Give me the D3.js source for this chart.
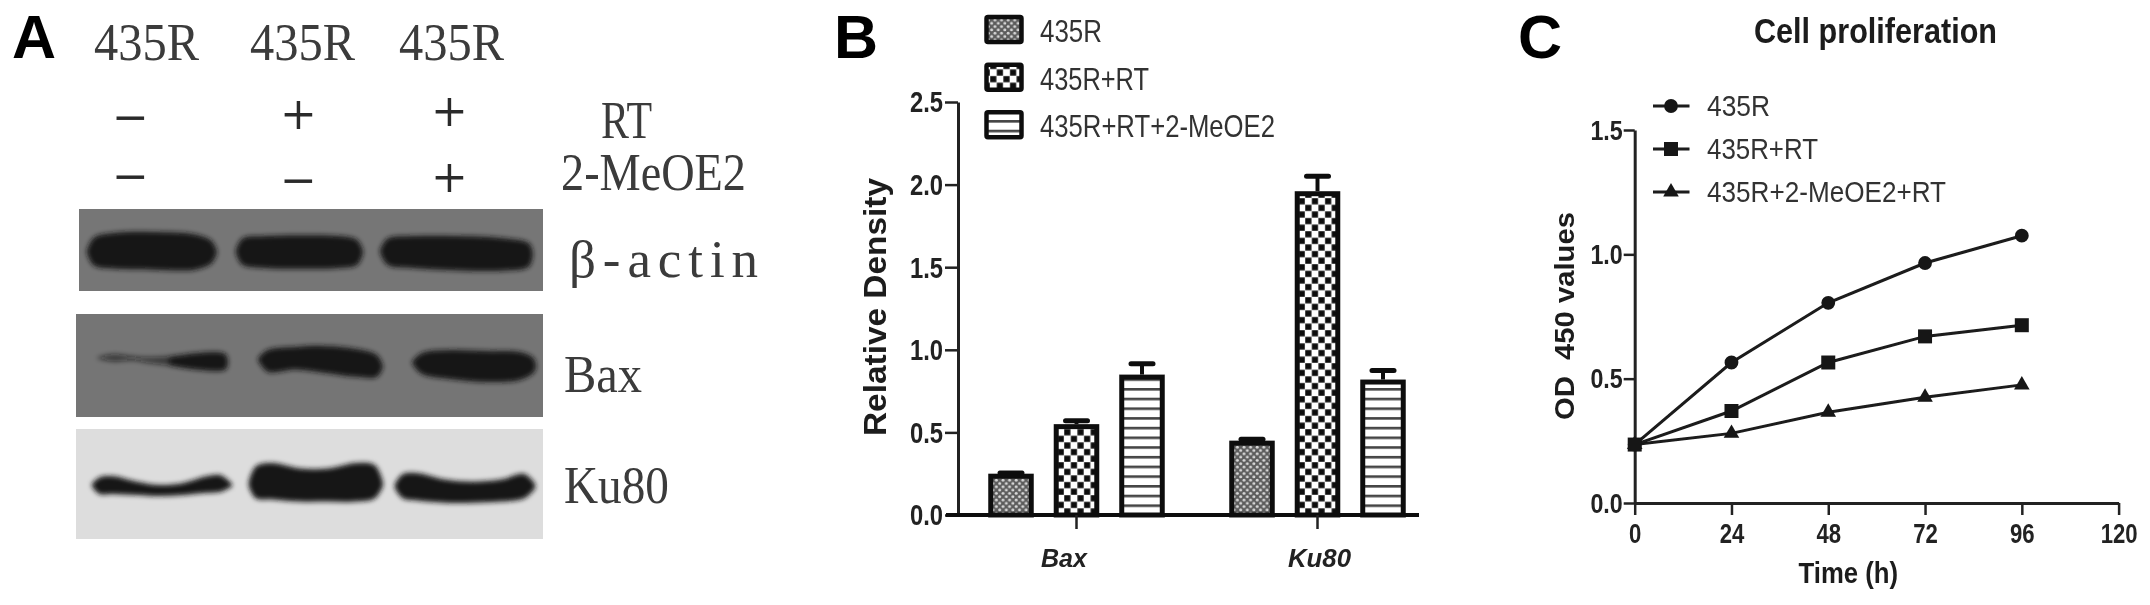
<!DOCTYPE html>
<html><head><meta charset="utf-8">
<script src="https://cdn.jsdelivr.net/npm/d3@7/dist/d3.min.js"></script>
<style>html,body{margin:0;padding:0;background:#fff}svg{display:block}</style>
</head><body><svg id="c" width="2150" height="605"></svg>
<script>
// ---------- data ----------
const laneHeads = ["435R","435R","435R"];
const rtSigns = ["−","+","+"];
const meoSigns = ["−","−","+"];
const treatments = ["RT","2-MeOE2"];
const blotNames = ["β-actin","Bax","Ku80"];
// band outlines as [lane %, top %, bottom %] of each blot
const actinBands = [
 [[1.7,51,53],[3.2,35,69],[8,29,73],[16,28,74],[25,31,74],[28.6,39,66],[29.7,51,54]],
 [[33.8,51,53],[35.2,36,68],[40,33,72],[48,32,73],[56,33,72],[60,38,68],[61.2,51,54]],
 [[64.9,50,53],[66.5,36,68],[72,33,72],[82,33,75],[92,36,75],[97,42,70],[97.8,53,56]]
];
const baxBands = [
 [[4.5,42,43],[8,39,46],[12,41,45],[15,42,47],[20,41,50],[26,38,54],[32,39,54],[32.5,46,48]],
 [[39,43,45],[41,35,56],[47,32,54],[53,31,57],[60,34,61],[64.5,40,61],[65.7,50,52]],
 [[72,46,48],[74,38,58],[80,35,63],[88,36,66],[95,37,64],[98,43,57],[98.5,50,52]]
];
const baxBandInk = [0.62,1,1];
const baxCore = [[[20,42,50],[26,38,54],[32,39,54],[32.5,46,48]]];
const ku80Bands = [
 [[3.4,50,52],[5,44,59],[8,43,59],[13,48,60],[18,51,61],[23,49,60],[28,43,58],[31,42,57],[33.4,50,52]],
 [[37,48,52],[38.5,34,63],[42,31,64],[48,36,66],[54,36,66],[60,31,66],[64,33,63],[65.7,48,52]],
 [[68.3,50,54],[70,41,63],[73,40,65],[79,46,67],[85,48,67],[91,46,66],[96,41,63],[98.3,50,54]]
];

const barGroups = ["Bax","Ku80"];
const barSeries = ["435R","435R+RT","435R+RT+2-MeOE2"];
const barBax = [0.25,0.55,0.85];
const barKu80 = [0.45,1.96,0.82];
const errBax = [0.004,0.02,0.065];
const errKu80 = [0.008,0.09,0.055];
const barTicks = [0,0.5,1,1.5,2,2.5];

const hours = [0,24,48,72,96];
const hourTicks = [0,24,48,72,96,120];
const odTicks = [0,0.5,1,1.5];
const lineSeries = ["435R","435R+RT","435R+2-MeOE2+RT"];
const od435R = [0.235,0.565,0.805,0.965,1.075];
const od435RRT = [0.235,0.37,0.565,0.67,0.715];
const od435RMeo = [0.235,0.28,0.365,0.425,0.475];

// ---------- setup ----------
const svg = d3.select("#c");
const defs = svg.append("defs");
const soft = (id,s)=>defs.append("filter").attr("id",id).attr("filterUnits","userSpaceOnUse")
  .attr("x",0).attr("y",0).attr("width",2150).attr("height",605)
  .append("feGaussianBlur").attr("stdDeviation",s);
soft("soft",0.75); soft("softA",0.55); soft("band",2.6);

// fills
const p1 = defs.append("pattern").attr("id","pDots").attr("patternUnits","userSpaceOnUse").attr("width",6.6).attr("height",6.6);
p1.append("rect").attr("width",6.6).attr("height",6.6).attr("fill","#5c5c5c");
p1.append("circle").attr("cx",1.65).attr("cy",1.65).attr("r",1.5).attr("fill","#d8d8d8");
p1.append("circle").attr("cx",4.95).attr("cy",4.95).attr("r",1.5).attr("fill","#d8d8d8");
const p2 = defs.append("pattern").attr("id","pCheck").attr("patternUnits","userSpaceOnUse").attr("width",13.2).attr("height",13.2);
p2.append("rect").attr("width",13.2).attr("height",13.2).attr("fill","#fff");
p2.append("rect").attr("x",0.2).attr("y",0.2).attr("width",6.2).attr("height",6.2).attr("fill","#111");
p2.append("rect").attr("x",6.8).attr("y",6.8).attr("width",6.2).attr("height",6.2).attr("fill","#111");
const p3 = defs.append("pattern").attr("id","pLines").attr("patternUnits","userSpaceOnUse").attr("width",9.7).attr("height",9.7);
p3.append("rect").attr("width",9.7).attr("height",9.7).attr("fill","#fff");
p3.append("rect").attr("width",9.7).attr("height",2.6).attr("fill","#444");
const seriesFill = d3.scaleOrdinal().domain(barSeries).range(["url(#pDots)","url(#pCheck)","url(#pLines)"]);

function fit(sel,w){ sel.attr("textLength",w).attr("lengthAdjust","spacingAndGlyphs"); return sel; }
function squeeze(sel,k){ sel.each(function(){ const l=this.getComputedTextLength();
  d3.select(this).attr("textLength",l*k).attr("lengthAdjust","spacingAndGlyphs"); }); }

// ---------- panel letters ----------
const letters = svg.append("g").attr("filter","url(#softA)").attr("font-family","Liberation Sans").attr("font-weight","700").attr("font-size",61).attr("fill","#000");
letters.selectAll("text").data(["A","B","C"]).join("text").text(d=>d)
  .attr("x",(d,i)=>[12,834,1518][i]).attr("y",58);

// ---------- panel A ----------
const A = svg.append("g");
const blots = [
 {bg:"#767676",x:[79,543],y:[209,291],bands:actinBands,ink:[1,1,1]},
 {bg:"#757575",x:[76,543],y:[314,417],bands:baxBands,ink:baxBandInk,core:baxCore},
 {bg:"#dddddd",x:[76,543],y:[429,539],bands:ku80Bands,ink:[1,1,1]}
];
blots.forEach(b=>{
  const X=d3.scaleLinear().domain([0,100]).range(b.x), Y=d3.scaleLinear().domain([0,100]).range(b.y);
  A.append("rect").attr("x",b.x[0]).attr("y",b.y[0]).attr("width",b.x[1]-b.x[0]).attr("height",b.y[1]-b.y[0]).attr("fill",b.bg);
  const area=d3.area().x(d=>X(d[0])).y0(d=>Y(d[1])).y1(d=>Y(d[2])).curve(d3.curveCatmullRom);
  const g=A.append("g").attr("filter","url(#band)");
  g.selectAll("path.b").data(b.bands).join("path").attr("class","b").attr("d",area).attr("fill","#131313").attr("opacity",(d,i)=>b.ink[i]);
  if(b.core) g.selectAll("path.k").data(b.core).join("path").attr("class","k").attr("d",area).attr("fill","#131313");
});
const Atext = A.append("g").attr("filter","url(#softA)").attr("font-family","Liberation Serif").attr("fill","#3a3a3a");
const headX = d3.scaleOrdinal().domain([0,1,2]).range([94,250,399]);
Atext.selectAll("text.h").data(laneHeads).join("text").attr("class","h").text(d=>d)
  .attr("x",(d,i)=>headX(i)).attr("y",60).attr("font-size",53).call(fit,105);
const signX = d3.scaleOrdinal().domain([0,1,2]).range([130.5,298.5,449.5]);
const signRow = (arr,ys)=>Atext.selectAll(null).data(arr).join("text").text(d=>d)
  .attr("x",(d,i)=>signX(i)).attr("y",(d,i)=>ys[i]).attr("text-anchor","middle")
  .attr("font-family","DejaVu Serif").attr("font-size",44).attr("fill","#2a2a2a");
signRow(rtSigns,[132,129,126]); signRow(meoSigns,[191,195,192]);
const sideLabels = [
 {t:treatments[0],x:601,y:138,w:51,m:"spacingAndGlyphs"},
 {t:treatments[1],x:561,y:190,w:185,m:"spacingAndGlyphs"},
 {t:blotNames[0],x:569,y:277,w:189,m:"spacing"},
 {t:blotNames[1],x:564,y:392,w:78,m:"spacingAndGlyphs"},
 {t:blotNames[2],x:564,y:503,w:105,m:"spacingAndGlyphs"}
];
sideLabels.forEach(l=>Atext.append("text").text(l.t).attr("x",l.x).attr("y",l.y).attr("font-size",53)
  .attr("textLength",l.w).attr("lengthAdjust",l.m));

// ---------- panel B ----------
const B = svg.append("g").attr("filter","url(#soft)");
const yB = d3.scaleLinear().domain([0,2.5]).range([515,102]);
const x0B = d3.scaleBand().domain(barGroups).range([956,1438]);
const x1B = d3.scaleBand().domain(barSeries).range([0,196.5]).paddingInner(0.305).paddingOuter(0.1525);
const barRows = [{g:"Bax",v:barBax,e:errBax},{g:"Ku80",v:barKu80,e:errKu80}];
const barG = B.selectAll("g.grp").data(barRows).join("g").attr("class","grp")
  .attr("transform",d=>`translate(${x0B(d.g)+x0B.bandwidth()/2-98.25},0)`);
const cells = r=>r.v.map((v,i)=>({s:barSeries[i],v,e:r.e[i]}));
barG.selectAll("line.stem").data(cells).join("line").attr("class","stem")
  .attr("x1",d=>x1B(d.s)+x1B.bandwidth()/2).attr("x2",d=>x1B(d.s)+x1B.bandwidth()/2)
  .attr("y1",d=>yB(d.v)).attr("y2",d=>yB(d.v+d.e)).attr("stroke","#111").attr("stroke-width",4);
barG.selectAll("line.cap").data(cells).join("line").attr("class","cap")
  .attr("x1",d=>x1B(d.s)+x1B.bandwidth()/2-11).attr("x2",d=>x1B(d.s)+x1B.bandwidth()/2+11)
  .attr("y1",d=>yB(d.v+d.e)).attr("y2",d=>yB(d.v+d.e)).attr("stroke","#111").attr("stroke-width",5).attr("stroke-linecap","round");
barG.selectAll("rect").data(cells).join("rect")
  .attr("x",d=>x1B(d.s)+2.5).attr("width",x1B.bandwidth()-5)
  .attr("y",d=>yB(d.v)+2.5).attr("height",d=>yB(0)-yB(d.v)-2.5)
  .attr("fill",d=>seriesFill(d.s)).attr("stroke","#111").attr("stroke-width",5);

const axYB = B.append("g").attr("transform","translate(958,0)")
  .call(d3.axisLeft(yB).tickValues(barTicks).tickFormat(d3.format(".1f")).tickSize(13).tickPadding(2).tickSizeOuter(0));
axYB.select(".domain").attr("stroke","#222").attr("stroke-width",3);
axYB.selectAll(".tick line").attr("stroke","#222").attr("stroke-width",2.5);
axYB.selectAll("text").attr("font-family","Liberation Sans").attr("font-size",29).attr("font-weight","700").attr("fill","#222").attr("dy",".34em").call(squeeze,0.82);

const axXB = B.append("g").attr("transform","translate(0,515)")
  .call(d3.axisBottom(x0B).tickSize(14).tickSizeOuter(0));
axXB.select(".domain").attr("d","M946,0H1419").attr("stroke","#111").attr("stroke-width",4);
axXB.selectAll(".tick line").attr("stroke","#222").attr("stroke-width",2.5);
axXB.selectAll("text").attr("font-family","Liberation Sans").attr("font-size",26).attr("font-weight","700").attr("font-style","italic").attr("fill","#222")
  .attr("x",(d,i)=>[-12.5,2][i]).attr("y",34).attr("dy",".71em").each(function(d,i){ d3.select(this).call(fit,[46,63][i]); });

fit(B.append("text").text("Relative Density").attr("transform","translate(886,436) rotate(-90)")
  .attr("font-family","Liberation Sans").attr("font-weight","700").attr("font-size",32).attr("fill","#1a1a1a"),258);

const legB = d3.scaleBand().domain(barSeries).range([15,158]).padding(0);
const legBW = d3.scaleOrdinal().domain(barSeries).range([62,109,235]);
const lb = B.selectAll("g.lb").data(barSeries).join("g").attr("class","lb").attr("transform",d=>`translate(0,${legB(d)})`);
lb.append("rect").attr("x",986.5).attr("y",2).attr("width",35).attr("height",25).attr("rx",1.5)
  .attr("fill",d=>seriesFill(d)).attr("stroke","#111").attr("stroke-width",4.5);
lb.append("text").text(d=>d).attr("x",1040).attr("y",27).attr("font-family","Liberation Sans").attr("font-size",32).attr("fill","#333")
  .each(function(d){ d3.select(this).call(fit,legBW(d)); });

// ---------- panel C ----------
const C = svg.append("g").attr("filter","url(#soft)");
const xC = d3.scaleLinear().domain([0,120]).range([1634.7,2118.6]);
const yC = d3.scaleLinear().domain([0,1.5]).range([503,130]);
const axYC = C.append("g").attr("transform","translate(1634.7,0)")
  .call(d3.axisLeft(yC).tickValues(odTicks).tickFormat(d3.format(".1f")).tickSize(11).tickPadding(1).tickSizeOuter(0));
axYC.select(".domain").attr("stroke","#222").attr("stroke-width",3);
axYC.selectAll(".tick line").attr("stroke","#222").attr("stroke-width",2.5);
axYC.selectAll("text").attr("font-family","Liberation Sans").attr("font-size",27).attr("font-weight","700").attr("fill","#222").attr("dy",".34em").call(squeeze,0.86);
const axXC = C.append("g").attr("transform","translate(0,503)")
  .call(d3.axisBottom(xC).tickValues(hourTicks).tickSize(12).tickPadding(9).tickSizeOuter(0));
axXC.select(".domain").attr("stroke","#222").attr("stroke-width",3);
axXC.selectAll(".tick line").attr("stroke","#222").attr("stroke-width",2.5);
axXC.selectAll("text").attr("font-family","Liberation Sans").attr("font-size",27).attr("font-weight","700").attr("fill","#222").call(squeeze,0.82);

const syms = [d3.symbolCircle,d3.symbolSquare,d3.symbolTriangle];
const symSize = [150,196,105];
const lineRows = [od435R,od435RRT,od435RMeo];
const lineGen = d3.line().x((d,i)=>xC(hours[i])).y(d=>yC(d));
[0,2,1].forEach(k=>{
  const vals = lineRows[k];
  C.append("path").attr("d",lineGen(vals)).attr("fill","none").attr("stroke","#1a1a1a").attr("stroke-width",3);
  C.selectAll(null).data(vals).join("path")
    .attr("transform",(d,i)=>`translate(${xC(hours[i])},${yC(d)})`)
    .attr("d",d3.symbol().type(syms[k]).size(symSize[k])()).attr("fill","#161616");
});
const legC = d3.scaleBand().domain(lineSeries).range([84.5,213.5]);
const legCW = d3.scaleOrdinal().domain(lineSeries).range([63,111,239]);
const lc = C.selectAll("g.lc").data(lineSeries).join("g").attr("class","lc").attr("transform",d=>`translate(0,${legC(d)+legC.bandwidth()/2})`);
lc.append("line").attr("x1",1653).attr("x2",1689.5).attr("stroke","#1a1a1a").attr("stroke-width",3);
lc.append("path").attr("transform","translate(1671,0)").attr("d",(d,i)=>d3.symbol().type(syms[i]).size(symSize[i])()).attr("fill","#161616");
lc.append("text").text(d=>d).attr("x",1707).attr("y",10).attr("font-family","Liberation Sans").attr("font-size",29).attr("fill","#333")
  .each(function(d){ d3.select(this).call(fit,legCW(d)); });

const cTxt = (t,x,y,s,w,rot)=>{ const e=C.append("text").text(t).attr("font-family","Liberation Sans").attr("font-weight","700").attr("font-size",s).attr("fill","#1a1a1a");
  e.attr("transform",rot?`translate(${x},${y}) rotate(-90)`:`translate(${x},${y})`); fit(e,w); };
cTxt("Cell proliferation",1754,43,35,243,false);
cTxt("Time (h)",1798.5,583,29,99.5,false);
cTxt("OD  450 values",1574,420,28,208,true);
C.selectAll("text").attr("xml:space","preserve").style("white-space","pre");
</script></body></html>
